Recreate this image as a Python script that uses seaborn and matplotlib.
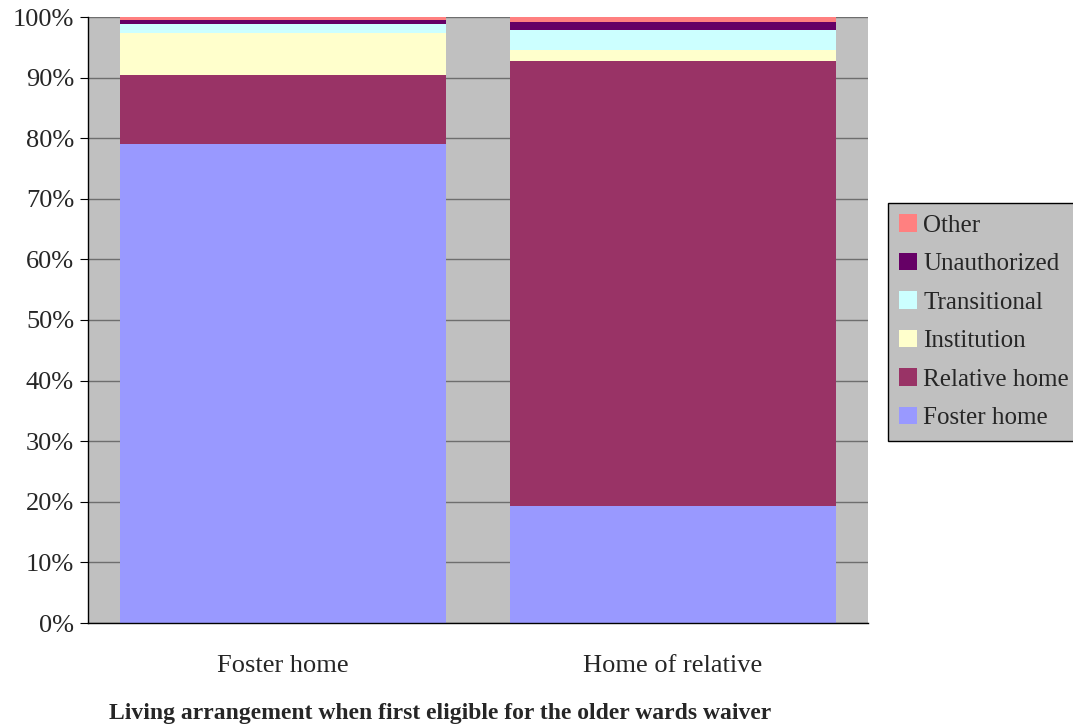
import pandas as pd
import matplotlib.pyplot as plt
import seaborn as sns
from matplotlib.patches import Patch

# Données (pourcentages)
groups = ['Foster home', 'Home of relative']
categories = ['Foster home', 'Relative home', 'Institution', 'Transitional', 'Unauthorized', 'Other']
foster_home = [79.0, 19.3]
relative_home = [11.4, 73.4]
institution = [7.0, 1.9]
transitional = [1.4, 3.3]
unauthorized = [0.7, 1.3]
other = [0.5, 0.8]
colors = ['#9999FF', '#993366', '#FFFFCC', '#CCFFFF', '#660066', '#FF8080']

data = pd.DataFrame({'group': groups, 'Foster home': foster_home, 'Relative home': relative_home,
                     'Institution': institution, 'Transitional': transitional,
                     'Unauthorized': unauthorized, 'Other': other})

sns.set_style('white')
plt.rcParams['font.family'] = ['Liberation Serif', 'DejaVu Serif']

fig = plt.figure(figsize=(10.73, 7.26), dpi=100)
ax = fig.add_axes([88/1073, 103/726, 780/1073, 606/726])
ax.set_facecolor('#C0C0C0')

# Barres empilées
bottom = pd.Series([0.0] * len(groups))
for cat, col in zip(categories, colors):
    sns.barplot(x=data['group'], y=data[cat], bottom=bottom.values, color=col, saturation=1,
                width=0.836, ax=ax, linewidth=0, order=groups)
    bottom = bottom + data[cat]

ax.set_ylim(0, 100)
ax.set_xlim(-0.5, 1.5)
ax.set_yticks(range(0, 101, 10))
ax.set_yticklabels([f'{v}%' for v in range(0, 101, 10)], fontsize=19)
ax.yaxis.grid(True, color='#6e6e6e', linewidth=1)
ax.set_axisbelow(True)
ax.set_xlabel('')
ax.set_ylabel('')

# Graduations de l'axe x aux limites des catégories
ax.set_xticks([0, 1])
ax.set_xticklabels(groups, fontsize=19)
ax.set_xticks([-0.5, 0.5, 1.5], minor=True)
ax.tick_params(axis='x', which='major', length=0, pad=23)
ax.tick_params(axis='x', which='minor', length=6, color='black', direction='out')
ax.tick_params(axis='y', length=6, color='black', direction='out', left=True, pad=4)

for side in ['top', 'right']:
    ax.spines[side].set_visible(False)
for side in ['left', 'bottom']:
    ax.spines[side].set_color('black')
    ax.spines[side].set_linewidth(1)

# Légende (ordre inversé)
handles = [Patch(facecolor=c, edgecolor='none', label=l) for l, c in zip(categories, colors)][::-1]
leg = fig.legend(handles=handles, loc='upper left', bbox_to_anchor=(888/1073, (726-203)/726),
                 fontsize=18, frameon=True, fancybox=False, handlelength=0.7, handleheight=0.7,
                 handletextpad=0.25, borderpad=0.45, labelspacing=0.64, borderaxespad=0)
leg.get_frame().set_facecolor('#C0C0C0')
leg.get_frame().set_edgecolor('black')
leg.get_frame().set_linewidth(1)
leg.get_frame().set_alpha(1)

fig.text(440/1073, (726-714)/726, 'Living arrangement when first eligible for the older wards waiver',
         ha='center', va='center', fontsize=17, fontweight='bold')

fig.savefig('out.png', dpi=100)
